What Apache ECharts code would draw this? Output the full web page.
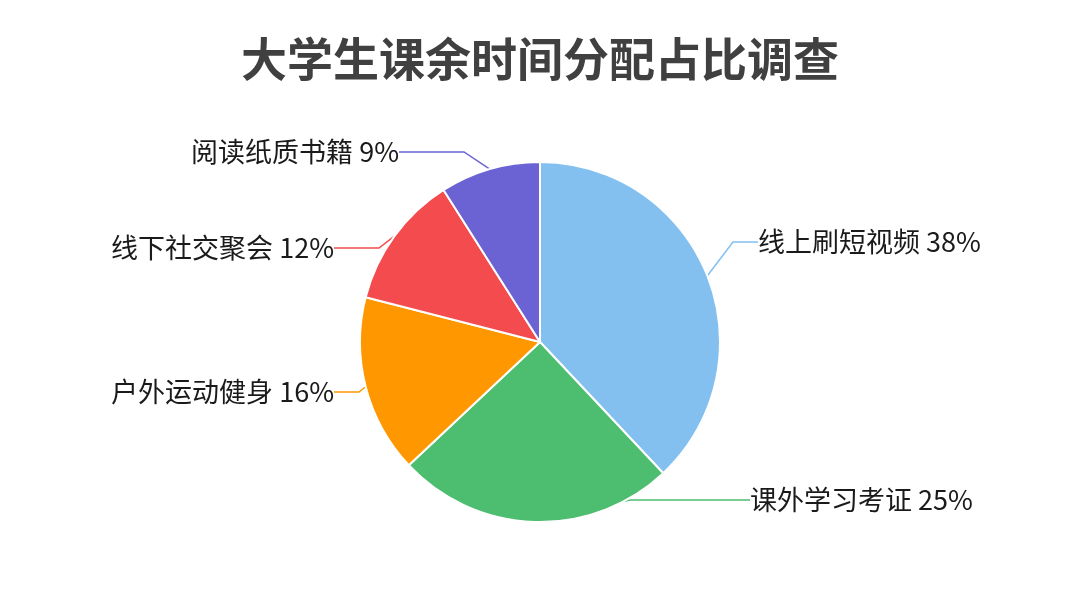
<!DOCTYPE html>
<html>
<head>
<meta charset="utf-8">
<script src="https://cdn.jsdelivr.net/npm/echarts@6/dist/echarts.min.js"></script>
<style>
html, body { margin: 0; padding: 0; background: #fff; }
#main { width: 1080px; height: 589px; }
</style>
</head>
<body>
<div id="main"></div>
<script>
var categories = ['线上刷短视频', '课外学习考证', '户外运动健身', '线下社交聚会', '阅读纸质书籍'];
var values = [38, 25, 16, 12, 9];
var colors = ['#83c0f0', '#4dbd6f', '#ff9800', '#f44b4e', '#6b63d4'];

// where each label sits (layout only)
var labelPos = [
	{ x: 758, y: 242, align: 'left' },
	{ x: 750, y: 500, align: 'left' },
	{ x: 334, y: 392, align: 'right' },
	{ x: 334, y: 248, align: 'right' },
	{ x: 399, y: 152, align: 'right' }
];
// horizontal part of each label line
var lineTail = [25, 120, 25, 45, 65];

var pieData = [];
for (var i = 0; i < categories.length; i++) {
	pieData.push({
		name: categories[i],
		value: values[i],
		labelLine: { length2: lineTail[i] }
	});
}

var myChart = echarts.init(document.getElementById('main'));
var option = {
	backgroundColor: '#ffffff',
	color: colors,
	title: {
		text: '大学生课余时间分配占比调查',
		left: 'center',
		top: 31,
		textStyle: {
			fontFamily: 'Noto Sans CJK SC',
			fontSize: 46,
			fontWeight: 'bold',
			color: '#404040'
		}
	},
	series: [{
		type: 'pie',
		center: [540, 342],
		radius: 180,
		startAngle: 90,
		data: pieData,
		itemStyle: {
			borderColor: '#ffffff',
			borderWidth: 2
		},
		label: {
			formatter: '{b} {c}%',
			fontFamily: 'Noto Sans CJK SC',
			fontSize: 27,
			color: '#1a1a1a'
		},
		labelLine: {
			length: 30,
			length2: 22,
			lineStyle: { width: 1.5 }
		},
		labelLayout: function (params) {
			var p = labelPos[params.dataIndex];
			return {
				x: p.x,
				y: p.y,
				align: p.align,
				verticalAlign: 'middle'
			};
		}
	}]
};
myChart.setOption(option);
</script>
</body>
</html>
